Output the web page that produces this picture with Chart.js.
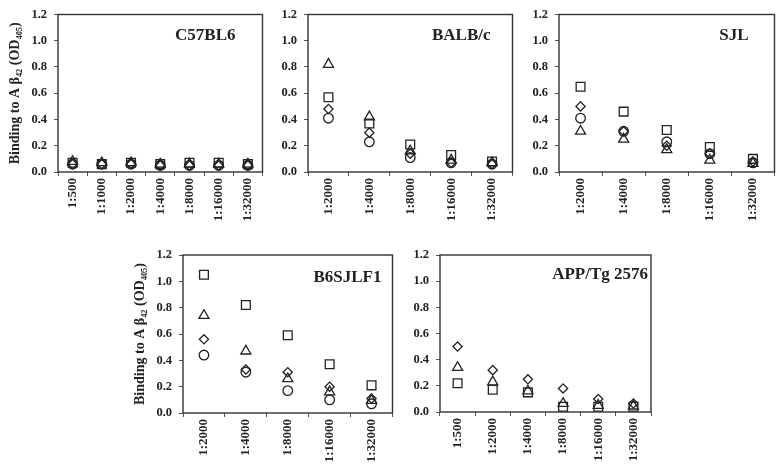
<!DOCTYPE html>
<html>
<head>
<meta charset="utf-8">
<script src="https://cdn.jsdelivr.net/npm/chart.js@4/dist/chart.umd.min.js"></script>
<style>
  body { margin: 0; background: #fff; }
  #wrap { position: relative; width: 782px; height: 475px; }
  #wrap canvas { position: absolute; }
</style>
</head>
<body>
<div id="wrap">
  <canvas id="c57" width="270" height="235" style="left:0;top:0"></canvas>
  <canvas id="balb" width="250" height="235" style="left:270px;top:0"></canvas>
  <canvas id="sjl" width="262" height="235" style="left:520px;top:0"></canvas>
  <canvas id="b6sjl" width="275" height="240" style="left:125px;top:235px"></canvas>
  <canvas id="app" width="260" height="240" style="left:400px;top:235px"></canvas>
</div>
<script>
// dilutions
const dil7 = ['1:500', '1:1000', '1:2000', '1:4000', '1:8000', '1:16000', '1:32000'];
const dil5 = ['1:2000', '1:4000', '1:8000', '1:16000', '1:32000'];
const dilApp = ['1:500', '1:2000', '1:4000', '1:8000', '1:16000', '1:32000'];
const yTicks = [0, 0.2, 0.4, 0.6, 0.8, 1.0, 1.2];

// C57BL6
const c57Square   = [0.07, 0.06, 0.07, 0.06, 0.07, 0.07, 0.06];
const c57Triangle = [0.08, 0.07, 0.07, 0.06, 0.06, 0.06, 0.06];
const c57Diamond  = [0.06, 0.06, 0.06, 0.05, 0.05, 0.05, 0.05];
const c57Circle   = [0.06, 0.06, 0.06, 0.05, 0.05, 0.05, 0.05];

// BALB/c
const balbSquare   = [0.57, 0.37, 0.21, 0.13, 0.08];
const balbTriangle = [0.82, 0.42, 0.16, 0.09, 0.07];
const balbDiamond  = [0.48, 0.30, 0.14, 0.07, 0.06];
const balbCircle   = [0.41, 0.23, 0.11, 0.07, 0.06];

// SJL
const sjlSquare   = [0.65, 0.46, 0.32, 0.19, 0.10];
const sjlTriangle = [0.31, 0.25, 0.17, 0.09, 0.065];
const sjlDiamond  = [0.50, 0.31, 0.20, 0.14, 0.08];
const sjlCircle   = [0.41, 0.31, 0.23, 0.14, 0.07];

// B6SJLF1
const b6Square   = [1.05, 0.82, 0.59, 0.37, 0.21];
const b6Triangle = [0.74, 0.47, 0.26, 0.16, 0.095];
const b6Diamond  = [0.56, 0.33, 0.31, 0.20, 0.11];
const b6Circle   = [0.44, 0.31, 0.17, 0.10, 0.07];

// APP/Tg 2576
const appSquare   = [0.22, 0.17, 0.15, 0.04, 0.04, 0.04];
const appTriangle = [0.34, 0.23, 0.16, 0.065, 0.05, 0.045];
const appDiamond  = [0.50, 0.32, 0.25, 0.18, 0.10, 0.065];

const yTitle = 'Binding to A β\u2084\u2082 (OD\u2084\u2080\u2085)';
const ink = '#222';
const serif = "'Liberation Serif', 'Times New Roman', serif";

const frame = {
  id: 'frame',
  afterDatasetsDraw(chart, args, opts) {
    const { ctx, chartArea: a } = chart;
    ctx.save();
    ctx.strokeStyle = '#333';
    ctx.lineWidth = 1.4;
    ctx.strokeRect(a.left, a.top, a.right - a.left, a.bottom - a.top);
    ctx.font = 'bold 17px ' + serif;
    ctx.fillStyle = ink;
    ctx.textAlign = 'right';
    ctx.textBaseline = 'middle';
    ctx.fillText(opts.text, a.right - opts.dx, a.top + opts.dy);
    ctx.restore();
  }
};

function series(data, style, radius) {
  return {
    data: data,
    pointStyle: style,
    pointRadius: radius,
    pointHoverRadius: radius,
    pointBorderColor: ink,
    pointBackgroundColor: 'rgba(0,0,0,0)',
    pointBorderWidth: 1.3,
    showLine: false
  };
}

function panel(id, labels, sets, cfg) {
  const datasets = [];
  if (sets.circle) datasets.push(series(sets.circle, 'circle', 4.8));
  if (sets.diamond) datasets.push(series(sets.diamond, 'rectRot', 4.6));
  if (sets.triangle) datasets.push(series(sets.triangle, 'triangle', 5.8));
  if (sets.square) datasets.push(series(sets.square, 'rect', 6.2));

  new Chart(document.getElementById(id), {
    type: 'line',
    data: { labels: labels, datasets: datasets },
    plugins: [frame],
    options: {
      responsive: false,
      animation: false,
      layout: { padding: { top: cfg.top, right: cfg.right, left: 0, bottom: 0 } },
      plugins: {
        legend: { display: false },
        tooltip: { enabled: false },
        frame: { text: cfg.title, dx: cfg.dx, dy: cfg.dy }
      },
      scales: {
        x: {
          type: 'category',
          offset: true,
          afterFit: s => { s.height = cfg.xh; },
          grid: { offset: true, drawOnChartArea: false, tickLength: 4, color: '#555' },
          border: { display: false },
          ticks: {
            autoSkip: false, minRotation: 90, maxRotation: 90, padding: 2,
            color: ink, font: { family: serif, size: 13, weight: 'bold' }
          }
        },
        y: {
          min: 0, max: 1.2,
          afterFit: s => { s.width = cfg.yw; },
          afterBuildTicks: s => { s.ticks = yTicks.map(v => ({ value: v })); },
          grid: { drawOnChartArea: false, tickLength: 4, color: '#555' },
          border: { display: false },
          ticks: {
            padding: 7, color: ink,
            font: { family: serif, size: 12.5, weight: 'bold' },
            callback: v => Number(v).toFixed(1)
          },
          title: {
            display: !!cfg.ytitle, text: yTitle, color: ink,
            padding: { top: 7, bottom: 0 },
            font: { family: serif, size: 14, weight: 'bold' }
          }
        }
      }
    }
  });
}

panel('c57', dil7,
  { square: c57Square, triangle: c57Triangle, diamond: c57Diamond, circle: c57Circle },
  { title: 'C57BL6', dx: 27, dy: 21, top: 11, right: 5, yw: 58, xh: 63, ytitle: true });
panel('balb', dil5,
  { square: balbSquare, triangle: balbTriangle, diamond: balbDiamond, circle: balbCircle },
  { title: 'BALB/c', dx: 22, dy: 21, top: 11, right: 4, yw: 38, xh: 63 });
panel('sjl', dil5,
  { square: sjlSquare, triangle: sjlTriangle, diamond: sjlDiamond, circle: sjlCircle },
  { title: 'SJL', dx: 26, dy: 21, top: 11, right: 5, yw: 39, xh: 63 });
panel('b6sjl', dil5,
  { square: b6Square, triangle: b6Triangle, diamond: b6Diamond, circle: b6Circle },
  { title: 'B6SJLF1', dx: 11, dy: 23, top: 20, right: 6, yw: 58, xh: 62, ytitle: true });
panel('app', dilApp,
  { square: appSquare, triangle: appTriangle, diamond: appDiamond },
  { title: 'APP/Tg 2576', dx: 3, dy: 20, top: 20, right: 9, yw: 40, xh: 63 });
</script>
</body>
</html>
